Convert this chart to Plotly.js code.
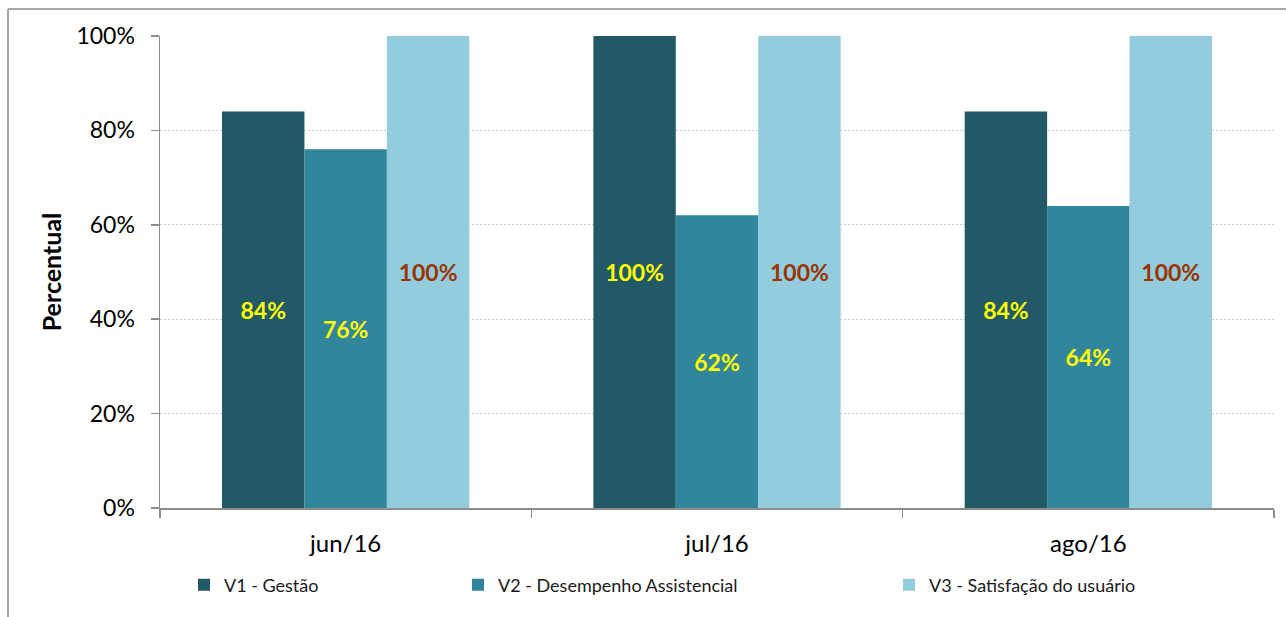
<!DOCTYPE html>
<html>
<head>
<meta charset="utf-8">
<script src="https://cdn.plot.ly/plotly-3.0.1.min.js"></script>
<style>
html,body{margin:0;padding:0;background:#fff;overflow:hidden;}
#chart{width:1286px;height:617px;}
</style>
</head>
<body>
<div id="chart"></div>
<script>
const categories = ['jun/16', 'jul/16', 'ago/16'];
const seriesNames = ['V1 - Gestão', 'V2 - Desempenho Assistencial', 'V3 - Satisfação do usuário'];
const v1 = [84, 100, 84];
const v2 = [76, 62, 64];
const v3 = [100, 100, 100];
const yTickVals = [0, 20, 40, 60, 80, 100];
const yTickText = ['0%', '20%', '40%', '60%', '80%', '100%'];

const colors = ['#215967', '#31859c', '#93cddd'];
const labelColors = ['#ffff00', '#ffff00', '#993300'];
const legendIds = ['legend', 'legend2', 'legend3'];
const FONT = 'Lato, "Open Sans", sans-serif';

const data = [v1, v2, v3].map((vals, i) => ({
  type: 'bar',
  name: seriesNames[i],
  x: categories,
  y: vals,
  text: vals.map(v => v + '%'),
  textposition: 'inside',
  insidetextanchor: 'middle',
  textangle: 0,
  textfont: {family: FONT, size: 23, color: labelColors[i], weight: 'bold'},
  marker: {color: colors[i], line: {width: 0}},
  legend: legendIds[i],
  hoverinfo: 'none'
}));

// plot area: x 160..1274, y 36..508
const L = 160, R = 1286 - 1274, T = 36, B = 617 - 508;
const pw = 1274 - 160, ph = 508 - 36;
const px = x => (x - L) / pw;
const py = y => (508 - y) / ph;

function legendAt(xpix) {
  return {
    orientation: 'h', x: px(xpix), xanchor: 'left', y: py(585), yanchor: 'middle',
    font: {family: FONT, size: 18, color: '#1a1a1a'}, bgcolor: 'rgba(0,0,0,0)',
    itemclick: false, itemdoubleclick: false
  };
}

const layout = {
  width: 1286, height: 617,
  margin: {l: L, r: R, t: T, b: B, pad: 0},
  paper_bgcolor: '#fff', plot_bgcolor: '#fff',
  font: {family: FONT, color: '#000'},
  barmode: 'group',
  bargap: 0.334,
  bargroupgap: 0,
  showlegend: true,
  legend: legendAt(184),
  legend2: legendAt(458),
  legend3: legendAt(889),
  xaxis: {
    type: 'category',
    tickson: 'boundaries',
    ticks: 'outside', ticklen: 8, tickcolor: '#8c8c8c', tickwidth: 1.5,
    showline: true, linecolor: '#8c8c8c', linewidth: 1.5,
    showgrid: false,
    tickfont: {family: FONT, size: 24, color: '#000'},
    ticklabelstandoff: 14,
    fixedrange: true
  },
  yaxis: {
    range: [0, 100],
    tickvals: yTickVals, ticktext: yTickText,
    ticks: 'outside', ticklen: 8, tickcolor: '#8c8c8c', tickwidth: 1.5,
    showline: true, linecolor: '#8c8c8c', linewidth: 1.5,
    showgrid: true, gridcolor: '#c8c8c8', griddash: '2px,2px', gridwidth: 1,
    zeroline: false,
    tickfont: {family: FONT, size: 23, color: '#000'},
    ticklabelstandoff: 11,
    title: {text: 'Percentual', font: {family: FONT, size: 25, color: '#000', weight: 'bold'}, standoff: 7},
    fixedrange: true
  },
  shapes: [
    {type: 'line', xref: 'paper', yref: 'paper', x0: px(8), x1: px(8), y0: py(9), y1: py(640),
     line: {color: '#a6a6a6', width: 2}},
    {type: 'line', xref: 'paper', yref: 'paper', x0: px(8), x1: px(1300), y0: py(9), y1: py(9),
     line: {color: '#a6a6a6', width: 2}}
  ]
};

Plotly.newPlot('chart', data, layout, {displayModeBar: false, staticPlot: true});
</script>
</body>
</html>
